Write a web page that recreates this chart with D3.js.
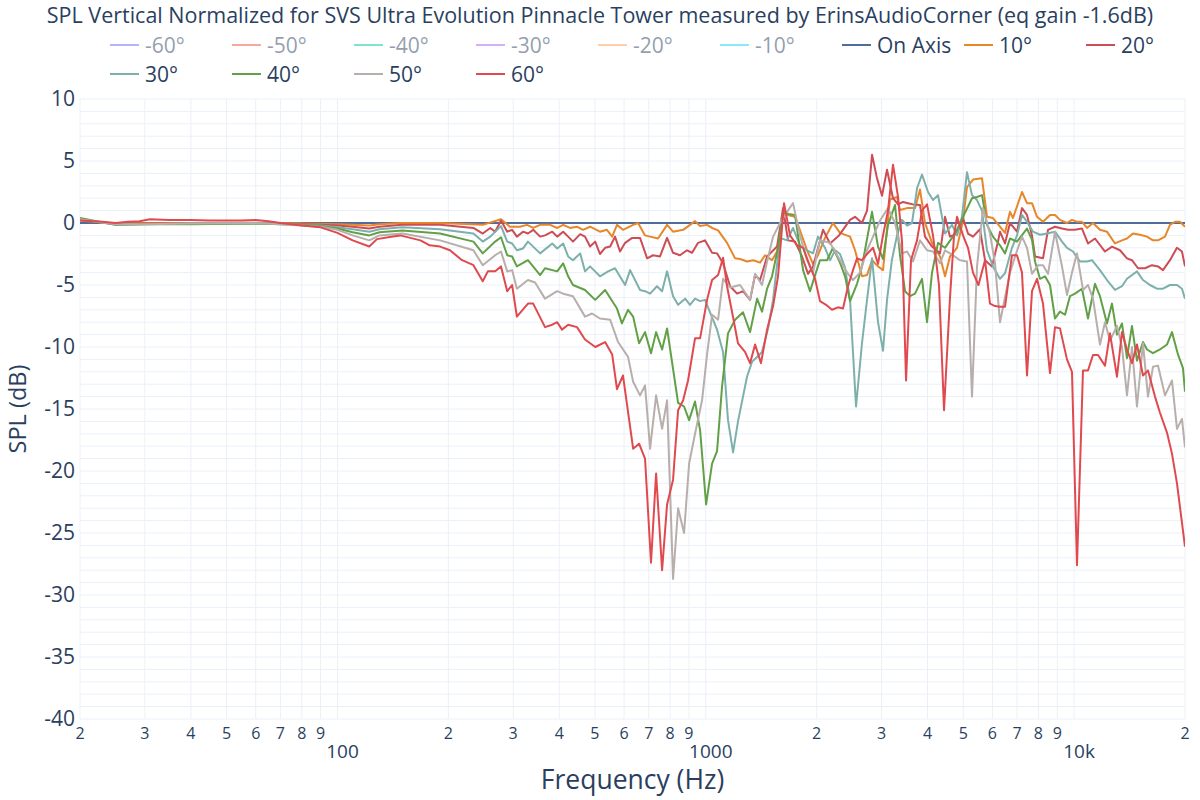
<!DOCTYPE html>
<html>
<head>
<meta charset="utf-8">
<script src="https://cdn.jsdelivr.net/npm/d3@7"></script>
<style>
  html, body { margin: 0; padding: 0; background: #fff; }
  svg { display: block; font-family: "Open Sans", verdana, arial, sans-serif; }
</style>
</head>
<body>
<svg id="chart" width="1200" height="800"></svg>
<script>
// ---------------- DATA ----------------
const chartTitle = "SPL Vertical Normalized for SVS Ultra Evolution Pinnacle Tower measured by ErinsAudioCorner (eq gain -1.6dB)";
const xAxisTitle = "Frequency (Hz)";
const yAxisTitle = "SPL (dB)";

const legendNames = ["-60°", "-50°", "-40°", "-30°", "-20°", "-10°", "On Axis", "10°", "20°", "30°", "40°", "50°", "60°"];
const legendHidden = [true, true, true, true, true, true, false, false, false, false, false, false, false];

const xTickValues = [20,30,40,50,60,70,80,90,100,200,300,400,500,600,700,800,900,1000,2000,3000,4000,5000,6000,7000,8000,9000,10000,20000];
const xTickLabels = ["2","3","4","5","6","7","8","9","100","2","3","4","5","6","7","8","9","1000","2","3","4","5","6","7","8","9","10k","2"];
const xTickMajor  = [false,false,false,false,false,false,false,false,true,false,false,false,false,false,false,false,false,true,false,false,false,false,false,false,false,false,true,false];
const yTickValues = [10,5,0,-5,-10,-15,-20,-25,-30,-35,-40];
const yTickLabels = ["10","5","0","-5","-10","-15","-20","-25","-30","-35","-40"];

const onAxis = [[20,0],[20000,0]];

const deg10 = [[20,0.2],[23,0.05],[25,-0.05],[30,0],[40,0],[60,0.02],[70,0],[80,-0.05],[100,-0.1],[110,-0.15],[122,-0.2],[130,-0.1],[150,0],[190,0],
[248,-0.15],[278,0.3],[294,-0.3],[313,-0.3],[327,-0.15],[340,-0.4],[355,-0.15],[378,-0.15],[395,-0.4],[410,-0.15],[428,-0.4],[447,-0.3],[464,-0.55],[485,-0.3],[516,-0.7],[539,-0.55],[557,-1.1],[574,-0.15],[596,-0.55],[635,-0.15],[655,0],[684,-1.0],[706,-1.1],[742,-1.25],[785,-0.15],[815,-0.7],[868,-0.55],[906,-0.15],[935,0.15],[965,-0.25],[1008,-0.15],[1040,-0.4],[1080,-0.6],[1142,-1.6],[1201,-2.85],[1239,-2.9],[1294,-3.1],[1344,-3.0],[1404,-3.2],[1448,-2.6],[1513,-3.0],[1561,-2.3],[1621,0.8],[1672,0.65],[1747,0.5],[1802,-0.6],[1883,-2.2],[1955,-3.3],[2017,-2.6],[2107,-1.2],[2215,0],[2314,-0.8],[2464,-1.1],[2542,-2.2],[2655,-4.3],[2740,-4.2],[2827,-3.0],[2935,-3.5],[3028,-3.8],[3163,1.9],[3305,2.1],[3367,1.05],[3518,1.2],[3699,1.2],[3816,2.7],[3937,0],[4113,-1.6],[4324,-2.7],[4462,-4.3],[4603,-2.7],[4809,-2.0],[4993,0.2],[5119,2.9],[5315,3.5],[5622,3.6],[5801,0.5],[6022,0.4],[6291,-0.3],[6492,-0.8],[6697,0.9],[6823,0.4],[7219,2.5],[7449,1.6],[7685,1.6],[7929,0.5],[8232,0.1],[8600,0.65],[8874,0.65],[9154,0.25],[9564,0],[9867,0.25],[10181,0.1],[10504,0.1],[10838,-0.4],[11252,0],[11754,-0.55],[12281,-0.7],[12911,-1.65],[13487,-1.4],[13916,-1.25],[14447,-0.85],[15093,-0.95],[15769,-1.1],[16371,-1.4],[16892,-1.4],[17649,-1.1],[18206,-0.15],[18787,0.1],[19380,0.1],[20000,-0.3]];

const deg20 = [[20,0.3],[23,0.05],[25,-0.1],[30,-0.05],[40,-0.05],[60,0],[70,-0.05],[80,-0.1],[90,-0.15],[100,-0.2],[110,-0.3],[122,-0.45],[130,-0.3],[150,-0.15],[190,-0.15],
[234,-0.4],[248,-0.85],[260,-0.4],[268,-0.7],[278,0.2],[289,-0.7],[298,-0.55],[307,-1.1],[319,-0.7],[329,-0.85],[340,-0.55],[355,-1.1],[366,-1.0],[383,-0.7],[395,-1.1],[410,-0.7],[423,-1.1],[436,-1.5],[456,-0.9],[470,-1.1],[485,-1.9],[501,-1.5],[516,-2.5],[533,-2.0],[550,-1.9],[567,-1.1],[585,-2.3],[604,-1.6],[631,-1.2],[663,-1.2],[693,-2.85],[719,-2.6],[751,-2.7],[785,-1.2],[815,-2.4],[851,-2.6],[889,-2.2],[918,-2.4],[953,-1.6],[995,-1.4],[1040,-2.4],[1073,-2.45],[1114,-3.25],[1164,-5.1],[1216,-5.7],[1262,-5.5],[1319,-6.2],[1361,-4.2],[1404,-4.6],[1467,-2.7],[1513,-2.3],[1561,-1.9],[1621,1.2],[1672,-1.4],[1747,-1.5],[1825,-2.7],[1895,-4.1],[1955,-3.5],[2081,-0.55],[2174,-1.65],[2300,-1.0],[2464,0.25],[2542,0.5],[2655,0],[2740,1.0],[2827,5.5],[2917,3.6],[3009,2.2],[3105,4.3],[3223,2.0],[3326,1.5],[3431,1.7],[3540,1.6],[3653,1.5],[3816,1.45],[3937,-1.1],[4113,-1.9],[4324,-2.45],[4462,0.5],[4603,-1.1],[4809,-0.85],[4993,0.4],[5151,-0.85],[5315,-1.1],[5552,-0.5],[5729,-3.0],[5985,-3.5],[6214,-1.5],[6291,-0.7],[6492,-1.65],[6697,0],[6997,-0.7],[7219,1.2],[7449,0.65],[7685,-1.0],[7831,-2.7],[8232,-2.85],[8494,-0.55],[8874,-0.3],[9270,-0.45],[9625,-0.55],[10055,-0.55],[10504,-0.45],[10906,-1.65],[11394,-1.25],[12129,-2.3],[12670,-1.9],[13319,-2.2],[13916,-2.85],[14357,-3.0],[14907,-3.65],[15575,-3.65],[16268,-3.4],[16892,-3.5],[17428,-3.8],[18206,-3.0],[19022,-2.0],[19624,-2.3],[20000,-3.5]];

const deg30 = [[20,0.3],[25,-0.15],[30,-0.1],[40,-0.05],[60,0],[70,-0.05],[80,-0.15],[90,-0.2],[100,-0.35],[110,-0.5],[122,-0.7],[130,-0.5],[150,-0.35],[190,-0.5],
[234,-0.85],[248,-1.5],[260,-1.1],[278,-0.25],[289,-1.5],[298,-1.65],[307,-2.2],[319,-2.05],[329,-1.5],[355,-2.45],[383,-1.65],[395,-2.05],[410,-1.65],[423,-2.7],[436,-3.0],[456,-2.45],[470,-3.9],[485,-3.5],[516,-4.3],[543,-3.9],[567,-3.65],[604,-5.0],[623,-3.8],[663,-5.4],[684,-5.5],[706,-5.7],[737,-5.1],[761,-5.5],[785,-3.9],[815,-5.9],[841,-6.6],[879,-6.1],[906,-6.6],[935,-6.1],[965,-6.3],[995,-6.2],[1073,-8.6],[1114,-10.4],[1149,-15.9],[1186,-18.5],[1223,-16.0],[1294,-12.4],[1335,-11.2],[1378,-10.8],[1421,-10.4],[1476,-8.5],[1523,-6.2],[1591,-1.2],[1662,-1.4],[1725,-0.4],[1802,-1.8],[1883,-2.2],[1955,-2.45],[2017,-1.1],[2107,-2.0],[2174,-3.0],[2245,-2.2],[2314,-2.5],[2388,-3.6],[2464,-6.2],[2558,-14.8],[2655,-9.7],[2740,-6.2],[2827,-2.85],[2935,-8.0],[3028,-10.3],[3105,-6.2],[3200,-3.0],[3305,-1.0],[3410,0.25],[3518,-0.2],[3630,0],[3745,2.8],[3864,3.9],[4012,2.5],[4139,1.85],[4271,2.25],[4462,-0.85],[4661,-0.15],[4809,-1.0],[4960,0.5],[5119,4.1],[5281,2.25],[5449,1.85],[5622,1.0],[5801,-2.2],[6022,-3.5],[6291,-4.5],[6492,-4.05],[6781,-2.0],[6997,-1.0],[7219,0.65],[7449,0.1],[7733,-0.7],[8078,-0.95],[8440,-0.85],[8874,-0.7],[9270,-1.5],[9564,-2.0],[9930,-2.3],[10373,-3.1],[10838,-3.1],[11181,-3.0],[11754,-3.8],[12281,-4.6],[12911,-5.4],[13487,-5.1],[13916,-4.5],[14813,-3.9],[15380,-4.6],[16066,-5.0],[16786,-5.3],[17428,-5.3],[18206,-5.0],[19022,-5.0],[19624,-5.3],[20000,-6.1]];

const deg40 = [[20,0.4],[25,-0.15],[30,-0.1],[40,-0.1],[60,-0.05],[70,-0.1],[80,-0.15],[90,-0.25],[100,-0.45],[110,-0.75],[122,-1.0],[130,-0.75],[150,-0.6],[190,-0.85],
[234,-1.5],[248,-2.45],[268,-1.5],[278,-1.15],[289,-2.6],[298,-2.7],[307,-3.5],[329,-3.0],[355,-4.2],[366,-3.65],[395,-3.9],[410,-3.25],[423,-4.3],[436,-5.0],[470,-5.4],[501,-6.2],[533,-5.4],[574,-6.9],[592,-8.1],[615,-7.0],[635,-7.55],[659,-9.7],[684,-8.8],[710,-10.5],[733,-8.8],[761,-10.2],[785,-8.5],[841,-14.5],[873,-14.8],[901,-15.9],[935,-14.4],[965,-16.7],[1002,-22.7],[1040,-19.4],[1073,-18.4],[1107,-13.2],[1149,-8.9],[1201,-7.8],[1262,-7.2],[1319,-8.8],[1378,-6.1],[1421,-7.15],[1467,-5.3],[1513,-4.3],[1571,-2.0],[1621,0.9],[1693,0.7],[1747,0.65],[1837,-3.8],[1919,-5.5],[1980,-4.2],[2042,-3.0],[2134,-3.0],[2215,-2.0],[2314,-3.2],[2388,-4.3],[2464,-6.3],[2574,-4.9],[2655,-3.5],[2827,0.9],[2935,-1.9],[3028,-2.9],[3124,-0.15],[3264,1.45],[3367,-2.6],[3475,-5.5],[3585,-5.9],[3699,-5.7],[3864,-4.5],[3987,-8.0],[4113,-4.0],[4271,-1.6],[4462,-2.0],[4661,-1.2],[4809,-0.55],[4993,0.5],[5281,2.0],[5449,2.1],[5622,2.25],[5801,-0.15],[6022,-1.1],[6291,-1.8],[6492,-2.45],[6697,-1.25],[6997,-1.5],[7449,-0.45],[7685,-1.35],[7831,-3.1],[8078,-4.5],[8336,-4.3],[8600,-5.0],[8874,-7.7],[9154,-7.15],[9446,-7.4],[9745,-5.9],[10055,-5.7],[10504,-5.3],[10906,-7.7],[11394,-4.9],[11754,-5.9],[12281,-8.1],[12670,-6.5],[13072,-9.0],[13487,-8.1],[13916,-10.9],[14357,-8.3],[14813,-11.1],[15380,-9.6],[15769,-10.2],[16371,-10.5],[17103,-10.2],[17869,-9.8],[18435,-8.8],[19142,-10.6],[19748,-11.7],[20000,-13.6]];

const deg50 = [[20,0.3],[25,-0.1],[30,-0.1],[40,-0.05],[60,0],[70,-0.1],[80,-0.2],[90,-0.3],[100,-0.55],[110,-1.0],[122,-1.4],[130,-1.0],[150,-0.85],[190,-1.4],
[234,-2.2],[248,-3.4],[268,-2.6],[278,-2.3],[289,-3.9],[298,-3.8],[307,-5.3],[329,-4.6],[344,-4.8],[366,-6.1],[395,-5.5],[410,-5.7],[436,-5.9],[470,-7.55],[491,-7.3],[516,-7.7],[550,-7.8],[578,-9.6],[615,-10.8],[635,-12.8],[663,-13.9],[684,-13.1],[706,-18.2],[733,-13.9],[761,-16.6],[785,-14.3],[815,-28.7],[841,-23.0],[873,-25.0],[901,-19.4],[935,-17.0],[977,-14.3],[1008,-10.6],[1040,-7.4],[1080,-7.8],[1114,-4.5],[1164,-5.2],[1239,-5.0],[1319,-6.2],[1361,-4.1],[1421,-5.0],[1467,-3.1],[1523,-1.1],[1591,0],[1662,0.9],[1725,1.6],[1802,-1.0],[1883,-3.0],[1955,-4.0],[2042,-1.4],[2174,-1.6],[2314,-3.0],[2420,-4.0],[2510,-4.6],[2622,-4.0],[2740,-2.2],[2845,-1.1],[2972,0.2],[3124,1.2],[3264,0],[3410,-2.45],[3518,-2.3],[3653,-3.1],[3816,-1.4],[3987,-2.2],[4139,-2.3],[4324,-3.25],[4461,-2.2],[4690,-2.6],[4900,-3.0],[5119,-3.1],[5281,-14.0],[5450,-3.5],[5658,1.2],[5910,-0.85],[6099,-3.25],[6291,-8.0],[6492,-6.0],[6697,-4.0],[6950,-2.5],[7219,-1.1],[7449,-2.0],[7685,-4.1],[7990,-3.4],[8232,-3.4],[8494,-4.1],[8874,-0.7],[9270,-3.5],[9564,-5.8],[9867,-4.0],[10181,-2.45],[10570,-5.4],[10906,-5.0],[11252,-6.1],[11754,-9.8],[12129,-8.0],[12512,-9.5],[13072,-8.3],[13487,-10.0],[13916,-13.9],[14357,-10.0],[14813,-14.8],[15380,-9.7],[15869,-14.0],[16371,-11.6],[16892,-11.5],[17649,-13.9],[18435,-12.7],[19022,-16.6],[19624,-15.8],[20000,-18.1]];

const deg60 = [[20,0.2],[23,0.1],[25,0],[27,0.1],[29,0.15],[31,0.3],[35,0.25],[40,0.25],[45,0.2],[50,0.2],[55,0.2],[60,0.25],[65,0.15],[70,0],[80,-0.2],[90,-0.35],[100,-0.8],[110,-1.4],[122,-1.9],[128,-1.3],[140,-1.1],[148,-1.0],[168,-1.4],[178,-1.8],[190,-1.9],[202,-2.2],[218,-3.0],[234,-3.4],[248,-4.7],[256,-3.9],[268,-3.9],[278,-3.5],[289,-5.5],[298,-5.0],[307,-7.55],[329,-6.5],[340,-6.5],[366,-8.4],[383,-8.2],[395,-8.0],[407,-8.6],[423,-8.2],[447,-8.4],[470,-9.4],[501,-10.0],[533,-9.6],[557,-10.6],[574,-13.4],[596,-12.3],[635,-18.2],[659,-17.8],[684,-19.0],[710,-27.4],[733,-20.2],[761,-28.0],[785,-22.7],[815,-20.7],[841,-15.1],[868,-14.3],[895,-12.7],[935,-9.3],[965,-9.3],[1008,-6.2],[1040,-4.6],[1080,-4.2],[1114,-2.8],[1142,-5.1],[1186,-7.6],[1223,-9.7],[1278,-10.4],[1319,-11.3],[1361,-9.8],[1412,-11.3],[1467,-8.6],[1523,-6.7],[1571,-4.3],[1631,1.6],[1693,-1.0],[1769,-1.8],[1837,-2.0],[1919,-3.5],[1980,-4.5],[2042,-6.3],[2121,-6.6],[2201,-7.0],[2286,-6.8],[2358,-6.9],[2433,-5.1],[2510,-3.8],[2574,-2.85],[2655,-3.0],[2740,-2.5],[2845,-2.0],[2935,-3.3],[3028,-1.0],[3124,1.0],[3223,4.7],[3326,2.1],[3410,-1.5],[3497,-12.7],[3607,-3.0],[3745,-1.4],[3864,1.0],[3987,1.5],[4139,-1.0],[4297,-5.0],[4434,-15.1],[4603,-6.0],[4720,-1.0],[4809,0.5],[4993,-1.0],[5151,-2.0],[5315,-4.0],[5500,-5.0],[5729,-3.0],[5910,-6.5],[6099,-6.7],[6291,-6.75],[6492,-6.75],[6781,-2.6],[6997,-2.6],[7219,-4.0],[7449,-12.3],[7685,-5.5],[7929,-4.5],[8232,-6.5],[8600,-12.1],[8874,-8.4],[9154,-8.5],[9564,-11.0],[9867,-12.0],[10181,-27.6],[10570,-11.9],[10906,-11.9],[11252,-10.65],[11610,-10.65],[12129,-11.5],[12512,-8.9],[13072,-12.4],[13487,-8.8],[13916,-10.2],[14357,-11.3],[14813,-9.8],[15380,-12.3],[15869,-11.9],[16579,-14.0],[17103,-15.3],[17869,-16.9],[18435,-18.6],[19022,-21.0],[20000,-26.1]];

// visible traces, in drawing order
const visibleSeries = [onAxis, deg10, deg20, deg30, deg40, deg50, deg60];

// ---------------- STYLE ----------------
const legendColors = ["#636efa","#ef553b","#00cc96","#ab63fa","#ffa15a","#19d3f3","#4e6d9c","#e8862a","#cc4d55","#7eb0ab","#62a047","#b8aeab","#e04a4e"];
const visibleColors = ["#4e6d9c","#e8862a","#cc4d55","#7eb0ab","#62a047","#b8aeab","#e04a4e"];
const fontColor = "#2a3f5f";
const gridColor = "#ebf0f8";

const W = 1200, H = 800;
const margin = {left: 80, right: 15, top: 99, bottom: 81};
const svg = d3.select("#chart");
svg.append("rect").attr("width", W).attr("height", H).attr("fill", "#fff");

const x = d3.scaleLog().domain([20, 20000]).range([margin.left, W - margin.right]);
const y = d3.scaleLinear().domain([-40, 10]).range([H - margin.bottom, margin.top]);

// grid
const grid = svg.append("g");
grid.selectAll("line.v").data(xTickValues).join("line")
  .attr("x1", d => x(d)).attr("x2", d => x(d))
  .attr("y1", y(10)).attr("y2", y(-40))
  .attr("stroke", gridColor).attr("stroke-width", 1);
grid.selectAll("line.h").data(d3.range(-40, 11, 1)).join("line")
  .attr("x1", x(20)).attr("x2", x(20000))
  .attr("y1", d => y(d)).attr("y2", d => y(d))
  .attr("stroke", gridColor).attr("stroke-width", 1);

// clip
svg.append("clipPath").attr("id", "plotclip").append("rect")
  .attr("x", x(20)).attr("y", y(10) - 2).attr("width", x(20000) - x(20)).attr("height", y(-40) - y(10) + 4);

const line = d3.line().x(d => x(d[0])).y(d => y(d[1]));
const traces = svg.append("g").attr("clip-path", "url(#plotclip)");
visibleSeries.forEach((s, i) => {
  traces.append("path").datum(s)
    .attr("d", line)
    .attr("fill", "none")
    .attr("stroke", visibleColors[i])
    .attr("stroke-width", 2)
    .attr("stroke-linejoin", "round");
});

// y axis ticks
const yAxis = d3.axisLeft(y).tickValues(yTickValues).tickSize(0).tickPadding(5)
  .tickFormat((d, i) => yTickLabels[i]);
const gy = svg.append("g").attr("transform", `translate(${x(20)},0)`).call(yAxis);
gy.select(".domain").remove();
gy.selectAll("text").attr("font-size", 21).attr("fill", fontColor)
  .attr("font-family", "Open Sans, verdana, arial, sans-serif");

// x axis ticks
const gx = svg.append("g");
gx.selectAll("text").data(xTickValues).join("text")
  .attr("x", (d, i) => x(d) + (xTickMajor[i] ? 5 : 0))
  .attr("y", (d, i) => xTickMajor[i] ? 758 : 739)
  .attr("text-anchor", "middle")
  .attr("font-size", (d, i) => xTickMajor[i] ? 19 : 16)
  .attr("fill", fontColor)
  .text((d, i) => xTickLabels[i]);

// axis titles
svg.append("text").attr("x", (x(20) + x(20000)) / 2).attr("y", 789)
  .attr("text-anchor", "middle").attr("font-size", 26.5).attr("fill", fontColor).text(xAxisTitle);
svg.append("text").attr("transform", `translate(26,${(y(10) + y(-40)) / 2}) rotate(-90)`)
  .attr("text-anchor", "middle").attr("font-size", 23.5).attr("fill", fontColor).text(yAxisTitle);

// title
svg.append("text").attr("x", 600).attr("y", 23).attr("text-anchor", "middle")
  .attr("font-size", 21.5).attr("fill", fontColor).text(chartTitle);

// legend
const leg = svg.append("g");
legendNames.forEach((name, i) => {
  const row = i < 9 ? 0 : 1;
  const col = i < 9 ? i : i - 9;
  const lx = 110 + col * 122;
  const ly = row === 0 ? 45 : 74;
  const g = leg.append("g").attr("opacity", legendHidden[i] ? 0.5 : 1);
  g.append("line").attr("x1", lx).attr("x2", lx + 29).attr("y1", ly).attr("y2", ly)
    .attr("stroke", legendColors[i]).attr("stroke-width", 2);
  g.append("text").attr("x", lx + 35).attr("y", ly + 7.5).attr("font-size", 21)
    .attr("fill", fontColor).text(name);
});
</script>
</body>
</html>
